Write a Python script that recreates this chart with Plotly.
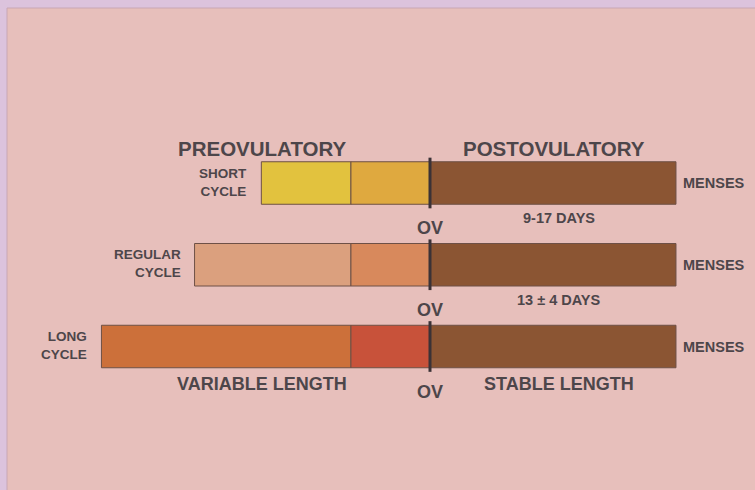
import plotly.graph_objects as go

# ---- data ----
cycle_names = ["SHORT", "REGULAR", "LONG"]
cycle_word = "CYCLE"
early_follicular = [5.1, 8.9, 14.2]     # variable early preovulatory part
late_follicular = [4.5, 4.5, 4.5]       # late preovulatory part
postovulatory = [14.0, 14.0, 14.0]      # luteal phase
day_notes = ["9-17 DAYS", "13 \u00b1 4 DAYS", "STABLE LENGTH"]

early_colors = ["#e2c23e", "#dba07e", "#cc703a"]
late_colors = ["#dfa93f", "#d8895c", "#c8523a"]
post_color = "#8b5533"

rows = list(range(len(cycle_names)))
txt = "#4d464a"
font = "Liberation Sans, Arial, sans-serif"

fig = go.Figure()
fig.add_trace(go.Bar(
    y=rows, x=early_follicular,
    base=[-(e + l) for e, l in zip(early_follicular, late_follicular)],
    orientation="h", width=0.52,
    marker=dict(color=early_colors, line=dict(color="#6e5046", width=1)),
    hoverinfo="skip"))
fig.add_trace(go.Bar(
    y=rows, x=late_follicular, base=[-l for l in late_follicular],
    orientation="h", width=0.52,
    marker=dict(color=late_colors, line=dict(color="#6e5046", width=1)),
    hoverinfo="skip"))
fig.add_trace(go.Bar(
    y=rows, x=postovulatory, base=[0] * len(rows),
    orientation="h", width=0.52,
    marker=dict(color=post_color, line=dict(color="#6e5046", width=1)),
    hoverinfo="skip"))

shapes = [
    dict(type="rect", xref="paper", yref="paper", x0=7 / 755, x1=1.01,
         y0=-0.01, y1=1 - 8 / 490, fillcolor="#e7bfbb",
         line=dict(color="#c9a7b4", width=1), layer="below"),
]
annotations = []
for i in rows:
    start = -(early_follicular[i] + late_follicular[i])
    shapes.append(dict(type="line", xref="x", yref="y", x0=0, x1=0,
                       y0=i - 0.31, y1=i + 0.31,
                       line=dict(color="#3b3236", width=3)))
    annotations.append(dict(x=start, y=i,
                            text="<b>%s<br>%s</b>" % (cycle_names[i], cycle_word),
                            xanchor="right", yanchor="middle",
                            xshift=-12, yshift=1,
                            showarrow=False, align="right",
                            font=dict(size=13.5, color=txt, family=font)))
    annotations.append(dict(x=postovulatory[i], y=i, text="<b>MENSES</b>",
                            xanchor="left", yanchor="middle", xshift=5,
                            showarrow=False,
                            font=dict(size=14.5, color=txt, family=font)))
    annotations.append(dict(x=0, y=i, text="<b>OV</b>", xanchor="center",
                            yanchor="middle", yshift=-45, showarrow=False,
                            font=dict(size=18, color=txt, family=font)))
    big = i == len(rows) - 1
    annotations.append(dict(x=postovulatory[i] / 2, y=i,
                            text="<b>%s</b>" % day_notes[i],
                            xanchor="center", yanchor="middle", xshift=6,
                            yshift=-37 if big else -35, showarrow=False,
                            font=dict(size=18 if big else 14.5,
                                      color=txt, family=font)))

annotations.append(dict(x=-9.55, y=0, text="<b>PREOVULATORY</b>",
                        xanchor="center", yanchor="middle", yshift=35,
                        showarrow=False,
                        font=dict(size=20.5, color=txt, family=font)))
annotations.append(dict(x=7.05, y=0, text="<b>POSTOVULATORY</b>",
                        xanchor="center", yanchor="middle", yshift=35,
                        showarrow=False,
                        font=dict(size=20.5, color=txt, family=font)))
annotations.append(dict(x=-9.55, y=2, text="<b>VARIABLE LENGTH</b>",
                        xanchor="center", yanchor="middle", yshift=-37,
                        showarrow=False,
                        font=dict(size=18, color=txt, family=font)))

px = 17.57
fig.update_layout(
    width=755, height=490, barmode="overlay", showlegend=False,
    margin=dict(l=0, r=0, t=0, b=0),
    paper_bgcolor="#dcc3dd", plot_bgcolor="rgba(0,0,0,0)",
    xaxis=dict(range=[-430 / px, 325 / px], visible=False, fixedrange=True),
    yaxis=dict(range=[2 + (490 - 346.5) / 81.75, -183 / 81.75],
               visible=False, fixedrange=True),
    shapes=shapes, annotations=annotations,
)
fig.write_html(
    "out.html",
    config={"displayModeBar": False},
    post_script="document.body.style.margin='0';"
                "document.body.style.overflow='hidden';"
                "document.body.style.background='#dcc3dd';",
)
